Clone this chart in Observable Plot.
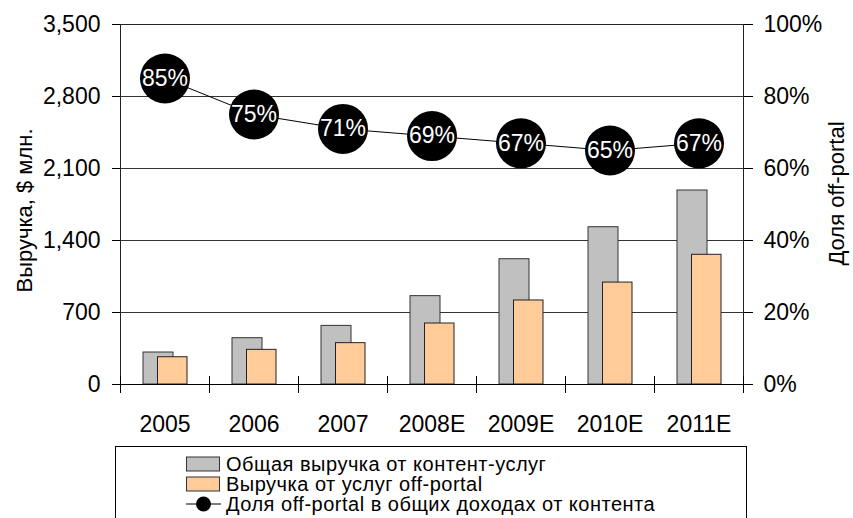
<!DOCTYPE html>
<html>
<head>
<meta charset="utf-8">
<script src="https://cdn.jsdelivr.net/npm/d3@7"></script>
<script src="https://cdn.jsdelivr.net/npm/@observablehq/plot@0.6"></script>
<style>
  html, body { margin: 0; padding: 0; background: #fff; }
  body { width: 853px; height: 518px; overflow: hidden; position: relative; font-family: "Liberation Sans", Arial, sans-serif; }
  #legend { position: absolute; left: 115px; top: 446px; width: 632px; height: 100px; border: 1px solid #000; box-sizing: border-box; }
  .item { position: absolute; left: 70px; height: 20px; display: flex; align-items: center; font-size: 20px; line-height: 20px; color: #000; white-space: nowrap; letter-spacing: 0.5px; }
  .item svg { margin-right: 5px; }
</style>
</head>
<body>
<div id="chart"></div>
<div id="legend"></div>
<script>
const years = ["2005", "2006", "2007", "2008E", "2009E", "2010E", "2011E"];
const totalRevenue = [311, 450, 570, 859, 1218, 1529, 1886];
const offPortalRevenue = [265, 337, 402, 593, 817, 991, 1261];
const offPortalShare = [85, 75, 71, 69, 67, 65, 67];
const yTicks = [0, 700, 1400, 2100, 2800, 3500];
const yMax = 3500;
const seriesNames = ["Общая выручка от контент-услуг", "Выручка от услуг off-portal", "Доля off-portal в общих доходах от контента"];
const leftTitle = "Выручка, $ млн.";
const rightTitle = "Доля off-portal";

const data = years.map((y, i) => ({year: y, total: totalRevenue[i], off: offPortalRevenue[i], share: offPortalShare[i]}));
const shareToY = d => d.share / 100 * yMax;

const W = 853, H = 440, ML = 120, MR = 110;
const bw = (W - ML - MR) / years.length;

const plot = Plot.plot({
  width: W,
  height: H,
  marginLeft: ML,
  marginRight: MR,
  marginTop: 24,
  marginBottom: 56,
  style: {fontFamily: "Liberation Sans, Arial, sans-serif", fontSize: "23px", color: "#000", background: "#fff", overflow: "visible"},
  x: {type: "band", domain: years, padding: 0},
  y: {domain: [0, yMax]},
  marks: [
    Plot.gridY(yTicks, {stroke: "#333", strokeOpacity: 1, strokeWidth: 1}),
    Plot.barY(data, {x: "year", y: "total", fill: "#C0C0C0", stroke: "#333", strokeWidth: 1, insetLeft: 23, insetRight: 36}),
    Plot.barY(data, {x: "year", y: "off", fill: "#FFCC99", stroke: "#222", strokeWidth: 1, insetLeft: 37.5, insetRight: 22}),
    Plot.frame({stroke: "#222", strokeWidth: 1}),
    Plot.ruleY([0], {stroke: "#000", strokeWidth: 1}),
    Plot.ruleX(years, {x: d => d, dx: -bw / 2, y1: 0, y2: 0, insetTop: -8, insetBottom: -9, stroke: "#000"}),
    Plot.ruleX([years[years.length - 1]], {x: d => d, dx: bw / 2, y1: 0, y2: 0, insetTop: -8, insetBottom: -9, stroke: "#000"}),
    Plot.axisY({anchor: "left", ticks: yTicks, tickFormat: d3.format(","), tickSize: 8, tickPadding: 12, label: null, fontSize: 23}),
    Plot.axisY({anchor: "right", ticks: yTicks, tickFormat: d => Math.round(d / yMax * 100) + "%", tickSize: 9, tickPadding: 11, label: null, fontSize: 23}),
    Plot.axisX({anchor: "bottom", tickSize: 0, tickPadding: 31, label: null, fontSize: 23}),
    Plot.line(data, {x: "year", y: shareToY, stroke: "#000", strokeWidth: 1}),
    Plot.dot(data, {x: "year", y: shareToY, r: 25, fill: "#000", stroke: "none"}),
    Plot.text(data, {x: "year", y: shareToY, text: d => d.share + "%", fill: "#fff", fontSize: 23}),
    Plot.text([leftTitle], {frameAnchor: "left", textAnchor: "middle", dx: -96, dy: 6, rotate: -90, text: d => d, fontSize: 22, fill: "#000"}),
    Plot.text([rightTitle], {frameAnchor: "right", textAnchor: "middle", dx: 93, dy: -11, rotate: -90, text: d => d, fontSize: 22, fill: "#000"})
  ]
});
document.getElementById("chart").appendChild(plot);

// legend
const legend = document.getElementById("legend");
const swatches = [
  `<svg width="35" height="16"><rect x="0.5" y="1" width="33" height="14" fill="#C0C0C0" stroke="#333"/></svg>`,
  `<svg width="35" height="16"><rect x="0.5" y="1" width="33" height="14" fill="#FFCC99" stroke="#333"/></svg>`,
  `<svg width="35" height="16"><line x1="0" y1="8" x2="35" y2="8" stroke="#000"/><circle cx="17.5" cy="8" r="7.5" fill="#000"/></svg>`
];
seriesNames.forEach((name, i) => {
  const div = document.createElement("div");
  div.className = "item";
  div.style.top = (7 + i * 20) + "px";
  div.innerHTML = swatches[i] + `<span>${name}</span>`;
  legend.appendChild(div);
});
</script>
</body>
</html>
